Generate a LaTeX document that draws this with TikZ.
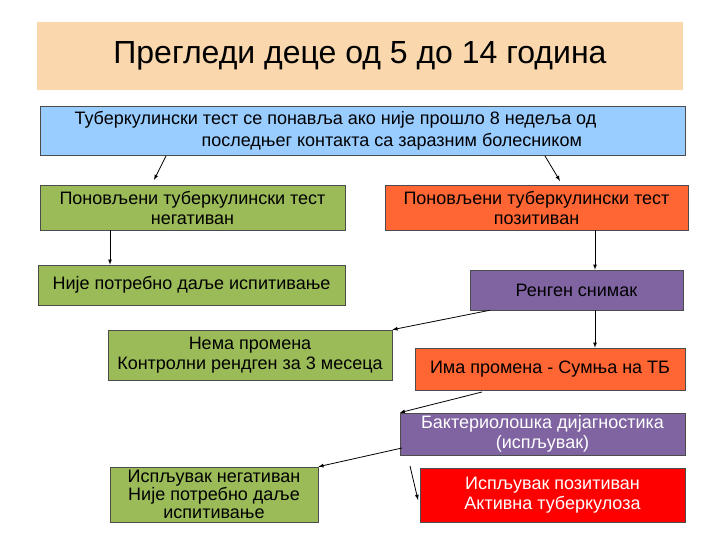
\documentclass[tikz,border=0pt]{standalone}
\usepackage{fontspec}
\setmainfont{Liberation Sans}
\begin{document}
\begin{tikzpicture}[x=1pt,y=-1pt,
  box/.style={draw=black!70,line width=0.6pt,inner sep=0pt,font=\fontsize{18}{20}\selectfont,align=center},
  arr/.style={draw=black,line width=0.8pt,-latex}]
\useasboundingbox (0,0) rectangle (720,540);
\definecolor{peach}{HTML}{FAD7AC}
\definecolor{lblue}{HTML}{99CCFF}
\definecolor{grn}{HTML}{9BBB59}
\definecolor{org}{HTML}{FF6633}
\definecolor{purp}{HTML}{8064A2}
\fill[peach] (37,22) rectangle (683,90);
\node (t) at (360,56) {\fontsize{32}{36}\selectfont Прегледи деце од 5 до 14 година};
\draw[box,fill=lblue] (40,106) rectangle (685,155);
\node[font=\fontsize{18}{20}\selectfont,anchor=west] (b1) at (71,120) {Туберкулински тест се понавља ако није прошло 8 недеља од};
\node[font=\fontsize{18}{20}\selectfont,anchor=west] (b2) at (198,142) {последњег контакта са заразним болесником};
\node[box,fill=grn,minimum width=305,minimum height=45] (g1) at (192.5,207.5) {Поновљени туберкулински тест\\негативан};
\node[box,fill=org,minimum width=303,minimum height=45] (o1) at (536.5,207.5) {Поновљени туберкулински тест\\позитиван};
\node[box,fill=grn,minimum width=307,minimum height=40] (g2) at (191.5,285) {Није потребно даље испитивање};
\node[box,fill=purp,minimum width=213,minimum height=40] (p1) at (576.5,290) {Ренген снимак};
\node[box,fill=grn,minimum width=284,minimum height=50] (g3) at (250,355) {Нема промена\\Контролни рендген за 3 месеца};
\node[box,fill=org,minimum width=270,minimum height=42] (o2) at (550,369) {Има промена - Сумња на ТБ};
\node[box,fill=purp,minimum width=285,minimum height=42,text=white] (p2) at (542.5,434) {Бактериолошка дијагностика\\(испљувак)};
\node[box,fill=grn,minimum width=208,minimum height=55,font=\fontsize{18}{18}\selectfont] (g4) at (214,494.5) {Испљувак негативан\\Није потребно даље\\испитивање};
\node[box,fill=red,minimum width=265,minimum height=54,text=white] (r) at (552.5,495) {Испљувак позитиван\\Активна туберкулоза};
\coordinate (a1) at (166,156); \coordinate (a2) at (154,180);
\coordinate (a3) at (545,156); \coordinate (a4) at (560,181);
\draw[arr] (a1) -- (a2);
\draw[arr] (a3) -- (a4);
\draw[arr] (g1.south -| 110,0) -- (g2.north -| 110,0);
\draw[arr] (o1.south -| 595,0) -- (p1.north -| 595,0);
\draw[arr] (p1.south west) ++(20,0) -- (g3.north east);
\draw[arr] (p1.south -| 595,0) -- (o2.north -| 595,0);
\coordinate (c1) at (482,392);
\draw[arr] (c1) -- (p2.north west);
\coordinate (c2) at (402,448);
\draw[arr] (c2) -- (g4.north east);
\coordinate (c3) at (410,466); \coordinate (c4) at (418,500);
\draw[arr] (c3) -- (c4);
\end{tikzpicture}
\end{document}
